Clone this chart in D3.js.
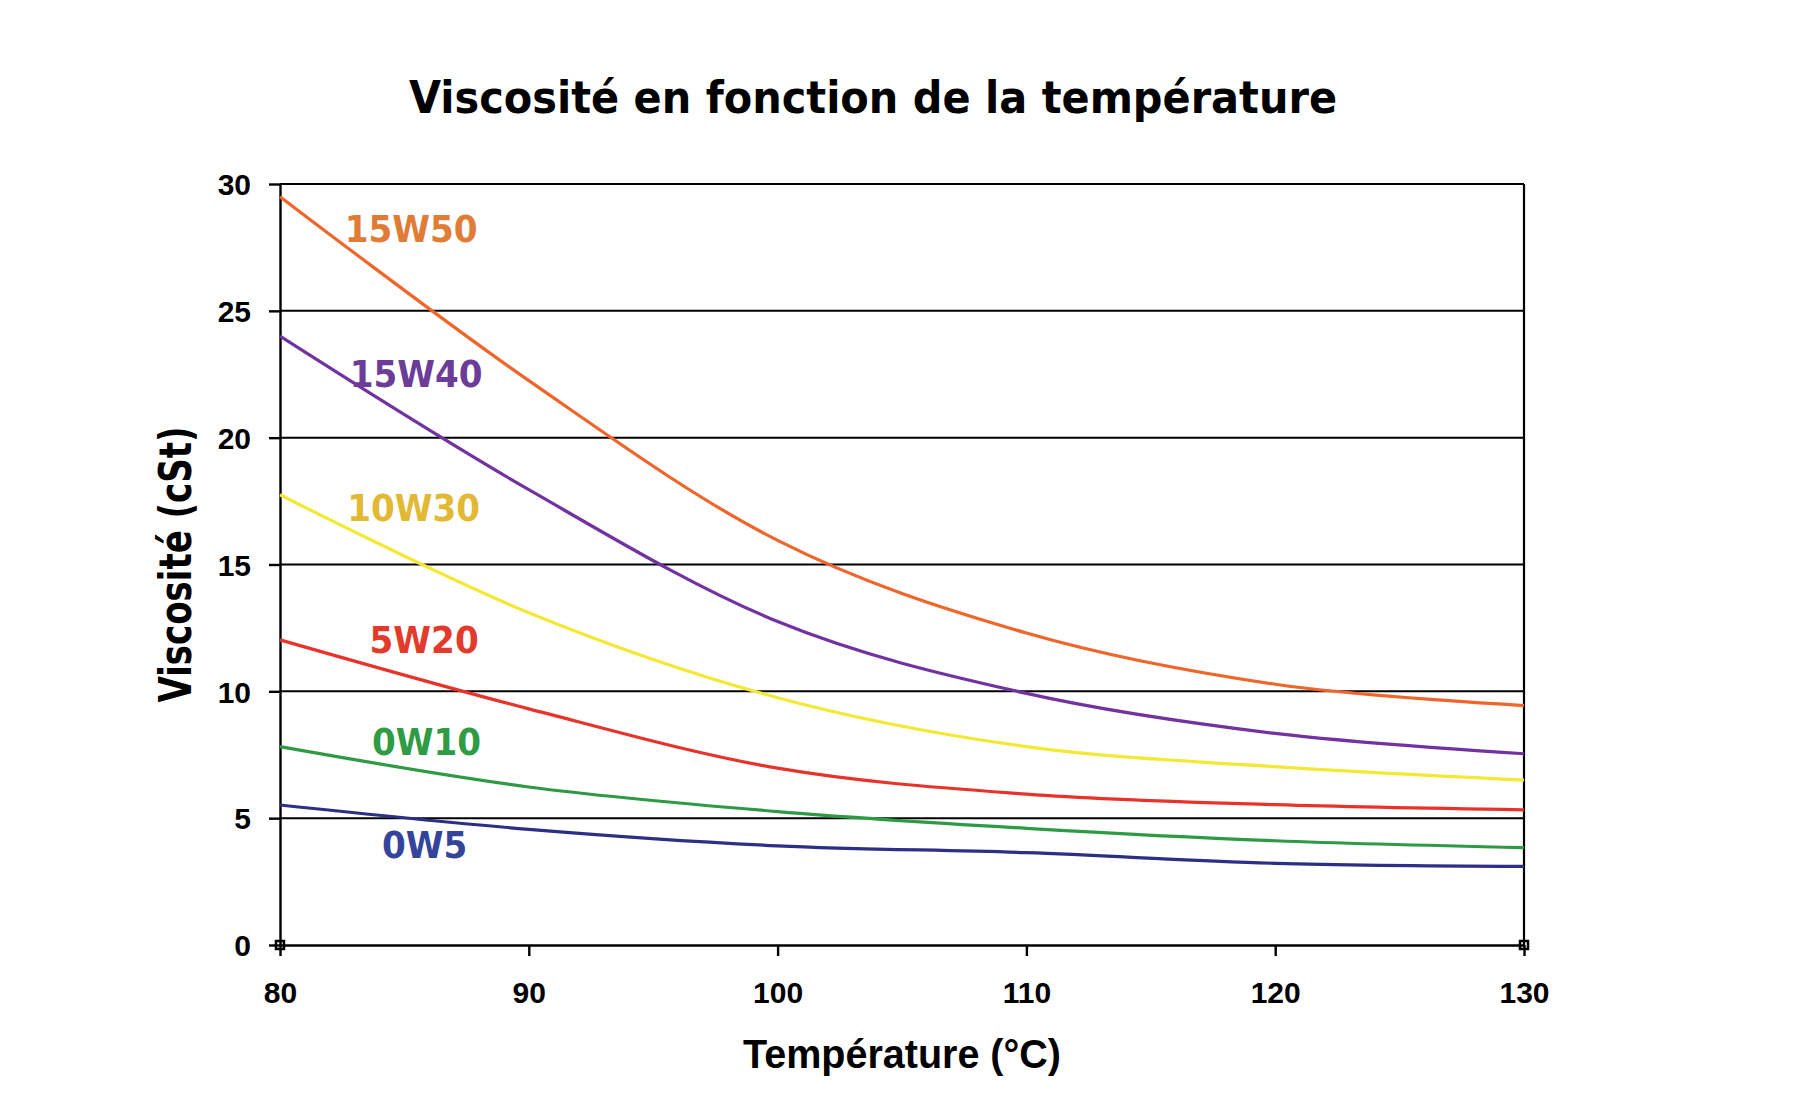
<!DOCTYPE html>
<html lang="fr">
<head>
<meta charset="UTF-8">
<title>Viscosité en fonction de la température</title>
<script src="https://cdn.jsdelivr.net/npm/d3@7"></script>
<style>
  html, body { margin: 0; padding: 0; background: #fff; }
  #chart { width: 1816px; height: 1100px; }
  .tick-label { font-family: "Liberation Sans", Arial, sans-serif; font-weight: bold; font-size: 30px; fill: #000; }
</style>
</head>
<body>
<div id="chart"></div>
<script>
// temperatures (°C) where the curves are sampled
const temperatures = [80, 90, 100, 110, 120, 130];

// viscosity in cSt, one array per oil grade
const visc15W50 = [29.5, 22.25, 15.95, 12.3, 10.28, 9.44];
const visc15W40 = [24.0, 17.95, 12.75, 9.92, 8.34, 7.54];
const visc10W30 = [17.75, 13.1, 9.75, 7.82, 7.03, 6.5];
const visc5W20  = [12.03, 9.31, 6.97, 5.95, 5.53, 5.33];
const visc0W10  = [7.82, 6.23, 5.26, 4.6, 4.11, 3.84];
const visc0W5   = [5.52, 4.56, 3.91, 3.64, 3.22, 3.1];

const seriesNames = ["15W50", "15W40", "10W30", "5W20", "0W10", "0W5"];
const seriesValues = [visc15W50, visc15W40, visc10W30, visc5W20, visc0W10, visc0W5];

const xTicks = [80, 90, 100, 110, 120, 130];
const yTicks = [0, 5, 10, 15, 20, 25, 30];

// colours: line / label
const lineColors  = ["#f0652a", "#7232a0", "#f3e935", "#e8332a", "#2f9a45", "#2c2f86"];
const labelColors = ["#e07c35", "#6b3c98", "#e2b935", "#e23a2b", "#2f9c45", "#34449b"];

// where each grade name sits, in data units (temperature, viscosity at baseline)
const labelSpots = [[82.6, 27.7], [82.8, 22.0], [82.7, 16.7], [83.6, 11.5], [83.7, 7.5], [84.1, 3.43]];

const W = 1816, H = 1100;
const plotL = 280, plotR = 1524, plotT = 184, plotB = 945;

const svg = d3.select("#chart").append("svg")
    .attr("width", W)
    .attr("height", H);

const x = d3.scaleLinear().domain([80, 130]).range([plotL, plotR]);
const y = d3.scaleLinear().domain([0, 30]).range([plotB, plotT]);

// horizontal grid lines
svg.append("g")
  .selectAll("line")
  .data(yTicks.filter(d => d > 0))
  .join("line")
    .attr("x1", plotL).attr("x2", plotR)
    .attr("y1", d => y(d)).attr("y2", d => y(d))
    .attr("stroke", "#000")
    .attr("stroke-width", 2);

// right border
svg.append("line")
    .attr("x1", plotR).attr("x2", plotR)
    .attr("y1", plotT).attr("y2", plotB)
    .attr("stroke", "#000").attr("stroke-width", 2.2);

// y axis
const yAxis = d3.axisLeft(y).tickValues(yTicks).tickSize(11).tickSizeOuter(0)
    .tickPadding(18).tickFormat(d3.format("d"));
const gy = svg.append("g").attr("transform", `translate(${plotL},0)`).call(yAxis);
gy.select(".domain").attr("stroke", "#000").attr("stroke-width", 2.4);
gy.selectAll(".tick line").attr("stroke", "#000").attr("stroke-width", 2.4);
gy.selectAll(".tick text").attr("class", "tick-label").attr("dy", "0.36em");

// x axis
const xAxis = d3.axisBottom(x).tickValues(xTicks).tickSize(11).tickSizeOuter(0)
    .tickPadding(26).tickFormat(d3.format("d"));
const gx = svg.append("g").attr("transform", `translate(0,${plotB})`).call(xAxis);
gx.select(".domain").attr("stroke", "#000").attr("stroke-width", 2.6);
gx.selectAll(".tick line").attr("stroke", "#000").attr("stroke-width", 2.4);
gx.selectAll(".tick text").attr("class", "tick-label").attr("dy", "0.71em");

// small corner markers on the x axis ends
svg.append("g")
  .selectAll("rect")
  .data([80, 130])
  .join("rect")
    .attr("x", d => x(d) - 4).attr("y", plotB - 4)
    .attr("width", 8).attr("height", 8)
    .attr("fill", "none").attr("stroke", "#000").attr("stroke-width", 2.5);

// curves, smoothed like the spreadsheet original
const line = d3.line()
    .x((d, i) => x(temperatures[i]))
    .y(d => y(d))
    .curve(d3.curveCardinal.tension(0));

svg.append("g")
  .selectAll("path")
  .data(seriesValues)
  .join("path")
    .attr("d", line)
    .attr("fill", "none")
    .attr("stroke", (d, i) => lineColors[i])
    .attr("stroke-width", 3.2)
    .attr("stroke-linejoin", "round");

// grade labels
const labels = svg.append("g")
  .selectAll("text")
  .data(seriesNames)
  .join("text")
    .attr("x", (d, i) => x(labelSpots[i][0]))
    .attr("y", (d, i) => y(labelSpots[i][1]))
    .attr("fill", (d, i) => labelColors[i])
    .style("font-family", "'DejaVu Sans', Verdana, sans-serif")
    .style("font-weight", "bold")
    .style("font-size", "38px")
    .text(d => d);
labels.each(function () {
  const w = this.getComputedTextLength();
  d3.select(this).attr("textLength", w * 0.9).attr("lengthAdjust", "spacingAndGlyphs");
});

// title
svg.append("text")
    .attr("x", 873).attr("y", 113)
    .attr("text-anchor", "middle")
    .attr("textLength", 928).attr("lengthAdjust", "spacingAndGlyphs")
    .style("font-family", "'DejaVu Sans', Verdana, sans-serif")
    .style("font-weight", "bold")
    .style("font-size", "44px")
    .text("Viscosité en fonction de la température");

// axis titles
svg.append("text")
    .attr("x", (plotL + plotR) / 2).attr("y", 1068)
    .attr("text-anchor", "middle")
    .attr("textLength", 318).attr("lengthAdjust", "spacingAndGlyphs")
    .style("font-family", "'Liberation Sans', Arial, sans-serif")
    .style("font-weight", "bold")
    .style("font-size", "41px")
    .text("Température (°C)");

svg.append("text")
    .attr("transform", `translate(191,${(plotT + plotB) / 2}) rotate(-90)`)
    .attr("text-anchor", "middle")
    .attr("textLength", 276).attr("lengthAdjust", "spacingAndGlyphs")
    .style("font-family", "'DejaVu Sans', Verdana, sans-serif")
    .style("font-weight", "bold")
    .style("font-size", "44px")
    .text("Viscosité (cSt)");
</script>
</body>
</html>
